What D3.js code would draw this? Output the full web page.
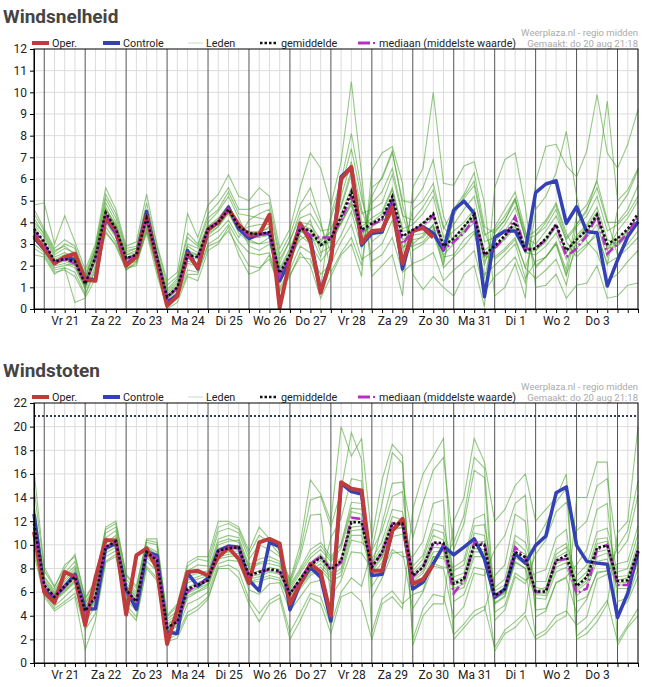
<!DOCTYPE html>
<html>
<head>
<meta charset="utf-8">
<style>
  body { margin: 0; background: #fff; }
  svg { display: block; font-family: Roboto, "Liberation Sans", sans-serif; }
</style>
<script src="https://d3js.org/d3.v7.min.js"></script>
</head>
<body>
<div id="chart"></div>
<script>
// ---- data: one value per 6 hours, from do 20 aug 18:00 ----
var dayLabels = ["Vr 21", "Za 22", "Zo 23", "Ma 24", "Di 25", "Wo 26", "Do 27",
                 "Vr 28", "Za 29", "Zo 30", "Ma 31", "Di 1", "Wo 2", "Do 3"];

// Windsnelheid (Bft)
var snelOper = [3.4, 2.8,2.1,2.4,2.55, 1.35,1.3,4.25,3.6, 2.0,2.4,4.3,2.2, 0.15,0.6,2.55,1.9,
  3.65,4.0,4.6,3.9, 3.4,3.45,4.35,0.05, 2.25,3.95,3.1,0.75, 2.25,6.0,6.55,3.05, 3.6,3.65,4.7,2.1, 3.6,3.75,3.3];
var snelControle = [3.3, 2.75,2.15,2.35,2.3, 1.4,1.35,4.2,3.5, 2.05,2.45,4.5,2.3, 0.3,0.65,2.7,1.85,
  3.65,4.0,4.7,3.7, 3.25,3.45,3.5,1.3, 2.3,3.9,3.25,0.8, 2.3,6.1,6.55,2.95, 3.5,3.55,5.0,1.85,
  3.6,3.8,3.5,2.72, 4.57,4.98,4.41,0.57, 3.3,3.6,3.6,2.72, 5.37,5.77,5.92,3.95, 4.72,3.57,3.52,1.06, 2.26,3.34,4.03];
var snelGemiddelde = [3.7, 3.1,2.2,2.3,2.2, 1.15,2.4,4.45,3.7, 2.35,2.5,4.2,2.4, 0.55,1.0,2.5,2.4,
  3.7,4.0,4.6,3.8, 3.5,3.45,3.55,1.65, 2.5,3.7,3.65,2.95, 3.25,4.25,5.4,3.65, 3.95,4.2,5.2,3.35,
  3.65,3.95,4.4,2.9, 3.25,3.8,4.35,2.5, 2.9,3.4,4.0,2.7, 2.8,3.25,3.9,2.7, 3.2,3.65,4.35,3.0, 3.25,3.7,4.4];
var snelMediaan = [3.6, 3.0,2.2,2.3,2.1, 1.2,2.3,4.4,3.6, 2.3,2.5,4.2,2.3, 0.5,1.0,2.4,2.4,
  3.7,4.0,4.6,3.8, 3.4,3.4,3.5,1.5, 2.5,3.8,3.4,3.3, 3.3,4.1,5.2,3.6, 3.9,4.1,5.1,3.0,
  3.6,3.9,4.3,2.75, 3.1,3.5,4.2,2.5, 2.8,3.3,4.25,2.75, 2.8,3.2,3.9,2.4, 2.8,3.4,4.3,2.55, 3.0,3.5,4.25];
var snelLeden = [
  [4.2, 3.4,2.5,2.8,2.6, 1.4,2.8,4.9,4.0, 2.6,2.8,4.6,2.7, 0.8,1.3,2.9,2.6, 4.0,4.5,5.2,4.2, 3.2,3.0,3.1,1.2, 2.1,3.4,3.0,2.2, 2.8,5.2,6.8,4.6, 3.1,3.5,4.6,2.5, 4.6,5.0,5.8,3.8, 3.1,3.5,4.0,2.0, 3.8,4.6,5.4,3.6, 2.0,2.4,3.1,1.8, 4.3,4.8,5.9,4.1, 2.5,3.0,3.6],
  [3.2, 2.8,2.0,2.1,1.9, 0.9,2.0,4.0,3.3, 2.1,2.2,3.8,2.1, 0.3,0.8,2.1,2.0, 3.3,3.6,4.1,3.3, 4.1,4.4,4.6,2.3, 3.1,4.5,4.9,3.9, 2.6,3.4,4.5,2.8, 4.9,5.4,6.5,4.4, 2.7,3.0,3.5,2.0, 4.4,5.1,5.7,3.4, 3.7,4.3,5.1,3.5, 1.9,2.4,3.0,1.5, 3.9,4.6,5.6,4.0, 4.0,4.6,5.7],
  [3.9, 3.3,2.4,2.6,2.4, 1.3,2.5,4.6,3.9, 2.5,2.6,4.4,2.5, 0.6,1.1,2.7,2.5, 3.8,4.2,4.8,3.9, 2.9,2.7,3.0,1.4, 2.4,3.2,3.5,2.4, 4.2,5.6,7.4,5.1, 3.4,3.6,4.5,2.9, 2.9,3.1,3.7,2.2, 4.3,5.2,5.9,3.6, 2.3,2.7,3.2,1.9, 3.4,3.8,4.6,3.1, 2.4,2.9,3.6,2.0, 4.6,5.3,6.4],
  [3.5, 2.9,2.1,2.2,2.0, 1.0,2.2,4.2,3.5, 2.2,2.4,4.0,2.3, 0.5,0.9,2.4,2.3, 3.5,3.8,4.4,3.6, 3.8,3.9,3.9,1.9, 2.8,4.0,3.9,3.2, 3.5,3.9,4.9,3.1, 5.2,6.1,7.3,4.8, 3.0,3.4,3.9,2.4, 2.5,3.2,3.6,1.4, 3.6,4.1,5.0,3.3, 3.6,4.1,4.9,3.5, 2.6,3.0,3.4,2.1, 2.4,2.8,3.3],
  [4.6, 3.7,2.8,3.2,2.9, 1.6,2.9,5.3,4.4, 2.8,2.9,4.9,2.9, 1.1,1.5,3.5,3.0, 4.4,4.9,5.6,4.6, 4.6,4.8,4.9,2.5, 3.4,4.8,5.6,4.1, 1.7,2.6,3.3,2.0, 5.6,6.0,7.2,5.0, 4.9,5.6,6.9,4.3, 3.1,3.6,4.2,2.4, 2.4,2.8,3.3,1.9, 1.4,1.8,2.3,1.1, 3.3,3.8,4.5,2.7, 3.6,4.2,5.0],
  [3.0, 2.6,1.8,1.9,1.7, 0.7,1.9,3.8,3.1, 1.9,2.0,3.6,2.0, 0.2,0.6,1.8,1.7, 3.0,3.3,3.9,3.1, 2.6,2.5,2.6,1.0, 1.8,2.9,2.6,1.6, 2.1,3.1,3.9,2.3, 2.6,3.0,4.1,2.1, 3.2,3.3,3.9,1.9, 2.4,2.9,3.5,1.6, 2.0,2.5,3.0,1.4, 2.2,2.4,3.0,1.6, 2.8,3.3,3.9,2.4, 3.3,3.6,4.1],
  [4.0, 3.5,2.6,3.0,2.8, 1.5,2.7,4.7,3.8, 2.4,2.5,4.1,2.3, 0.7,1.2,3.0,2.8, 3.8,4.1,4.6,3.7, 3.6,3.5,3.8,1.7, 2.6,3.6,3.3,3.0, 3.3,4.4,5.6,3.8, 4.2,4.5,5.6,3.7, 3.9,4.4,5.2,3.3, 3.9,4.6,5.2,3.1, 3.3,3.9,4.7,3.3, 3.0,3.6,4.3,3.2, 3.8,4.3,5.2,3.6, 3.9,4.4,5.2],
  [3.4, 2.7,1.9,2.0,2.1, 1.0,2.3,4.3,3.6, 2.3,2.5,4.3,2.5, 0.4,0.9,2.2,2.1, 3.4,3.8,4.5,3.5, 3.1,3.0,3.3,1.5, 2.2,3.5,4.1,2.6, 2.9,4.0,4.8,3.3, 3.6,3.7,4.4,2.8, 3.4,3.5,3.8,2.5, 3.0,3.7,4.6,2.2, 2.9,3.2,3.8,2.6, 2.5,2.9,3.5,2.3, 3.0,3.5,4.4,2.8, 2.9,3.4,4.1],
  [3.8, 3.0,2.3,2.5,2.3, 1.1,2.6,4.6,3.8, 2.5,2.7,4.4,2.6, 0.6,1.0,2.6,2.5, 3.7,3.9,4.5,3.8, 3.5,3.6,3.7,1.8, 2.7,3.9,3.7,3.1, 3.6,4.7,6.2,4.0, 4.0,4.4,5.5,3.6, 3.6,4.0,4.4,3.1, 3.6,4.0,4.6,2.7, 3.1,3.6,4.3,2.9, 2.7,3.1,3.8,2.6, 3.4,3.9,4.7,3.2, 3.0,3.5,4.0],
  [3.6, 3.1,2.2,2.3,2.2, 1.2,2.4,4.4,3.7, 2.3,2.5,4.1,2.4, 0.5,1.0,2.5,2.4, 3.6,4.0,4.6,3.8, 3.3,3.3,3.4,1.6, 2.4,3.6,3.6,2.9, 3.1,4.0,5.0,3.5, 3.8,4.1,5.1,3.2, 3.5,3.8,4.2,2.8, 3.3,3.8,4.3,2.4, 2.8,3.3,3.9,2.6, 2.7,3.2,3.9,2.6, 3.2,3.6,4.2,2.9, 3.1,3.6,4.3],
  [4.4, 3.6,2.7,2.9,2.5, 1.4,2.7,5.1,4.2, 2.7,2.8,4.5,2.6, 0.9,1.4,3.3,2.9, 4.2,4.6,5.4,4.4, 4.3,4.2,4.1,2.1, 3.2,4.2,4.4,3.6, 3.7,4.8,6.4,4.4, 4.6,4.9,6.2,4.3, 4.1,4.7,5.5,3.7, 4.6,5.3,6.3,3.8, 3.5,4.1,5.1,3.2, 3.4,4.0,4.8,3.3, 3.9,4.5,6.0,9.6, 5.0,5.5,6.5],
  [2.8, 2.5,1.7,1.8,1.5, 0.6,1.8,3.6,2.9, 1.8,2.1,3.7,1.8, 0.1,0.5,1.6,1.6, 2.9,3.1,3.6,2.8, 2.0,1.9,2.3,0.9, 1.6,2.4,2.3,1.0, 4.4,5.9,8.1,5.5, 2.2,2.5,3.3,1.7, 2.1,2.3,2.6,1.3, 1.8,2.2,2.7,0.8, 1.5,1.9,2.4,1.2, 4.6,5.2,6.3,8.2, 5.2,3.1,2.6,1.3, 1.6,2.2,2.7],
  [4.8, 4.9,3.0,4.3,3.1, 1.8,3.0,5.6,4.6, 2.9,3.1,5.3,3.0, 1.3,1.7,4.4,3.3, 4.8,5.3,6.2,5.2, 5.0,5.6,5.2,2.8, 3.7,5.6,7.2,6.5, 4.8,6.8,10.5,6.2, 1.5,2.0,2.5,0.6, 5.6,6.5,10.0,5.8, 5.7,6.6,6.8,4.9, 0.6,1.0,2.1,0.5, 5.9,7.5,7.6,6.6, 6.1,7.3,9.9,7.2, 6.5,7.6,9.2],
  [2.5, 2.4,1.6,1.9,0.3, 0.5,1.4,3.5,3.0, 1.8,2.2,3.5,1.6, 0.0,0.3,1.5,1.3, 2.7,3.0,3.8,2.5, 1.6,1.8,2.5,0.8, 1.5,2.6,2.0,0.5, 1.5,2.5,3.0,1.5, 6.4,7.2,7.5,5.8, 1.6,0.9,1.5,1.0, 0.6,1.6,2.0,0.1, 5.6,6.9,7.2,4.7, 1.0,1.1,1.6,0.5, 1.1,1.2,2.0,0.5, 0.6,1.1,1.2]
];

// Windstoten (m/s)
var stotenOper = [11.1, 6.0,5.1,7.7,7.3, 3.2,7.2,10.4,10.35, 4.1,9.1,9.7,8.0, 1.6,4.5,7.7,7.8,
  7.4,8.95,9.75,8.8, 6.75,10.2,10.5,10.1, 5.0,6.7,8.4,7.7, 4.0,15.3,14.75,14.6, 7.8,7.8,11.2,12.2, 6.7,7.1,8.3];
var stotenControle = [12.6, 6.1,5.55,6.5,7.5, 4.55,4.6,9.75,10.1, 6.2,4.55,9.4,9.1, 2.6,2.5,7.6,6.5,
  7.2,9.5,9.9,9.8, 7.0,6.1,10.2,9.85, 4.5,6.7,8.1,7.25, 3.55,15.2,14.5,14.3, 7.4,7.5,11.2,12.1,
  6.25,6.85,8.4,9.9, 9.15,9.8,10.5,8.8, 5.55,6.25,9.25,8.45, 9.95,10.75,14.4,14.9, 9.95,8.6,8.45,8.35, 3.85,5.9,9.45];
var stotenGemiddelde = [11.8, 6.6,5.6,6.5,7.3, 4.4,5.6,9.8,10.3, 6.2,5.2,9.4,8.7, 3.0,3.5,6.3,6.6,
  7.0,9.5,9.7,9.8, 7.4,7.7,7.95,7.8, 5.85,7.1,8.25,8.95, 7.9,8.65,11.9,11.9, 8.1,9.4,11.8,11.8,
  7.4,8.1,10.2,10.15, 6.7,7.1,10.0,10.0, 5.7,6.25,9.4,8.95, 6.05,6.05,8.65,9.1, 6.5,7.25,9.75,9.95, 6.95,7.0,9.5];
var stotenMediaan = [11.5, 6.5,5.6,6.5,7.3, 4.4,5.5,9.8,10.3, 6.1,5.2,9.4,8.9, 3.0,3.5,6.0,6.7,
  7.0,9.5,9.7,9.8, 7.4,7.7,7.9,7.7, 5.8,7.1,8.4,9.0, 7.9,8.5,12.3,12.2, 8.1,9.3,11.8,11.8,
  7.3,8.1,10.1,10.0, 5.9,7.0,10.2,10.1, 5.7,6.2,9.8,8.9, 6.0,6.0,8.7,8.8, 5.9,6.3,9.6,10.0, 6.6,6.6,9.4];
var stotenGrens = 20.9;
var stotenLeden = [
  [13.5, 7.2,6.0,7.4,8.2, 5.0,6.3,10.6,11.2, 6.8,5.8,9.9,9.4, 3.5,4.1,7.3,7.6, 7.8,10.5,10.8,10.6, 8.3,8.8,9.0,8.6, 6.6,8.0,9.6,10.2, 9.0,10.1,13.6,13.5, 6.5,7.8,9.6,9.0, 9.0,10.3,13.5,13.8, 2.0,3.0,4.0,4.5, 7.4,8.3,12.6,12.0, 4.5,4.6,6.8,7.3, 8.3,9.6,13.0,13.5, 5.2,5.5,8.0],
  [10.5, 6.2,5.2,6.0,6.8, 4.0,5.1,9.3,9.8, 5.8,4.8,8.9,8.2, 2.6,3.1,5.5,6.0, 6.4,8.8,9.0,9.1, 6.8,6.9,7.2,7.0, 5.2,6.3,7.4,7.9, 6.9,7.4,10.4,10.2, 9.5,11.2,14.1,14.5, 6.3,6.7,8.4,8.1, 8.1,8.7,12.2,12.6, 4.3,4.9,7.6,7.0, 7.6,7.9,10.6,11.3, 5.2,5.6,7.6,7.8, 8.4,8.6,11.6],
  [12.4, 6.9,5.8,6.9,7.8, 4.8,6.0,10.2,10.6, 6.5,5.5,9.7,9.1, 3.2,3.8,6.8,7.1, 7.4,10.0,10.3,10.4, 7.9,8.4,8.4,8.2, 6.2,7.6,8.9,9.6, 8.6,9.7,12.8,12.6, 8.5,9.8,12.4,12.1, 7.8,8.8,11.3,11.0, 7.3,7.6,11.0,10.8, 6.1,6.6,10.3,9.5, 6.4,6.2,9.2,9.8, 6.9,7.7,10.5,10.6, 7.3,7.4,10.2],
  [11.2, 6.4,5.4,6.2,7.0, 3.8,5.3,9.6,10.1, 6.0,5.0,9.2,8.5, 2.8,3.3,5.9,6.3, 6.7,9.2,9.4,9.5, 7.1,7.3,7.7,7.5, 5.5,6.7,7.8,8.4, 7.4,8.0,11.2,11.3, 7.7,8.9,11.2,11.5, 6.9,7.6,9.4,9.5, 6.3,6.7,9.4,9.4, 5.4,5.9,8.9,8.4, 5.8,5.7,8.1,8.5, 6.1,6.8,9.0,9.3, 6.6,6.6,8.9],
  [14.8, 7.8,6.4,8.3,9.0, 5.4,6.8,11.3,11.8, 7.4,6.3,10.4,10.2, 3.9,4.8,8.2,8.8, 8.6,11.5,11.8,11.3, 9.2,10.8,10.2,9.2, 6.9,9.4,13.8,14.1, 11.5,14.6,19.5,17.2, 2.6,5.4,6.1,5.0, 5.8,6.1,9.0,8.8, 10.2,12.5,17.4,16.5, 5.0,5.6,8.6,8.0, 2.3,2.8,4.0,4.4, 3.2,3.9,7.1,7.5, 9.8,11.2,15.4],
  [9.6, 5.8,4.6,5.2,5.9, 2.8,4.2,8.6,9.2, 4.9,3.9,8.2,7.2, 2.0,2.4,4.3,4.8, 5.6,8.1,8.3,7.8, 5.4,4.2,5.3,5.8, 2.6,4.2,5.9,5.6, 3.2,6.0,7.2,6.5, 9.6,13.5,17.8,16.9, 2.0,4.6,5.8,5.6, 2.4,3.3,4.4,4.8, 1.3,2.8,3.5,4.3, 10.3,11.8,13.6,14.8, 2.3,3.0,4.1,5.3, 1.8,3.2,4.6],
  [12.0, 6.7,5.7,6.6,7.5, 4.5,5.8,9.9,10.5, 6.3,5.3,9.5,8.8, 3.0,3.6,6.4,6.8, 7.1,9.7,9.9,9.9, 7.5,7.8,8.1,7.9, 6.0,7.2,8.5,9.2, 8.2,8.9,12.0,12.2, 8.3,9.5,11.9,11.6, 7.6,8.4,10.8,10.4, 6.9,7.3,10.2,10.3, 5.8,6.4,9.7,9.2, 6.1,6.4,8.9,9.4, 6.6,7.4,10.1,10.3, 7.0,7.2,9.8],
  [11.4, 6.5,5.5,6.3,7.2, 4.2,5.4,9.7,10.2, 6.1,5.0,9.3,8.6, 2.9,3.4,6.1,6.4, 6.9,9.3,9.6,9.6, 7.3,7.5,7.8,7.6, 5.7,6.9,8.0,8.7, 7.6,8.4,11.5,11.6, 7.9,9.0,11.5,11.4, 7.1,7.8,9.8,9.7, 6.6,6.9,9.7,9.6, 5.5,6.0,9.1,8.7, 5.9,5.9,8.4,8.8, 6.3,7.0,9.4,9.6, 6.8,6.8,9.2],
  [16.3, 8.1,6.5,8.0,9.2, 5.5,7.0,11.5,12.0, 7.5,6.5,10.5,10.5, 4.0,5.0,8.5,9.0, 9.0,12.0,12.0,11.5, 9.5,11.5,10.5,9.5, 7.0,10.0,15.5,14.3, 12.0,20.0,17.5,19.0, 10.5,15.5,18.5,17.5, 1.5,4.0,5.0,5.0, 12.0,14.0,19.0,17.0, 12.0,13.0,15.0,16.0, 12.0,13.0,14.0,16.0, 2.0,2.5,3.5,5.0, 11.0,12.0,20.0],
  [10.0, 6.0,4.8,5.6,6.4, 3.5,4.8,9.0,9.5, 5.4,4.4,8.6,7.8, 2.4,2.8,5.0,5.4, 6.0,8.4,8.7,8.6, 6.2,5.8,6.7,6.8, 4.4,5.6,6.8,7.0, 10.6,12.2,15.6,15.4, 5.5,7.2,9.3,9.4, 4.6,6.0,8.2,8.0, 3.8,4.8,7.6,7.4, 9.6,10.8,13.5,14.2, 3.9,4.4,6.8,7.2, 4.2,5.4,7.7,7.8, 4.4,5.2,7.3],
  [12.8, 7.0,5.9,7.1,8.0, 4.7,6.2,10.1,10.8, 6.6,5.6,9.8,9.2, 3.3,3.9,7.0,7.3, 7.6,10.2,10.5,10.2, 8.1,8.5,8.7,8.4, 6.4,7.8,9.2,9.9, 8.8,10.0,13.1,13.0, 8.8,10.3,13.0,12.8, 8.2,9.1,11.8,11.6, 7.8,8.3,11.6,11.7, 6.4,7.1,10.8,10.2, 6.9,6.9,9.6,10.1, 7.4,8.3,11.1,11.4, 7.7,8.0,10.9],
  [9.2, 5.6,4.4,5.0,5.6, 1.1,3.6,8.5,9.0, 4.6,3.6,8.0,7.0, 1.8,2.1,4.0,4.5, 5.4,8.0,8.0,7.2, 5.0,3.5,5.0,5.5, 2.0,3.6,5.5,5.0, 2.5,5.6,6.0,5.2, 2.0,5.0,5.6,4.6, 13.0,16.0,17.5,19.0, 5.2,5.8,8.1,7.9, 1.0,2.5,3.0,4.0, 2.0,2.5,3.5,4.0, 14.0,14.0,17.0,17.0, 1.5,3.0,4.0],
  [12.9, 7.3,6.2,7.6,8.6, 5.1,6.6,11.0,11.5, 7.1,6.0,10.2,10.0, 3.7,4.4,7.8,8.3, 8.2,11.1,11.4,11.0, 8.8,10.0,9.6,9.0, 6.7,9.0,12.5,12.6, 5.6,7.0,9.4,9.3, 8.0,11.8,15.2,15.3, 10.6,13.6,16.3,17.4, 9.6,11.8,16.3,15.7, 3.6,4.5,7.3,6.7, 9.2,10.4,12.8,13.6, 11.2,12.0,15.0,15.6, 9.2,10.4,14.2],
  [11.0, 6.3,5.3,6.1,6.9, 4.1,5.4,9.5,10.0, 5.9,5.0,9.1,8.4, 2.7,3.2,5.7,6.1, 6.6,9.0,9.2,9.3, 6.9,7.1,7.4,7.2, 5.3,6.5,7.6,8.1, 7.2,7.7,10.8,10.8, 7.4,8.5,10.7,10.9, 6.6,7.2,9.0,9.0, 6.0,6.4,9.0,9.0, 5.1,5.7,8.5,8.0, 5.5,5.4,7.7,8.1, 5.7,6.4,8.6,8.8, 6.3,6.3,8.5]
];

// ---- drawing ----
var W = 647, H = 687;
var RED = "#c03b3b", BLUE = "#3441b4", PURPLE = "#b52fc4", GREEN = "#3f9c22";

var svg = d3.select("#chart").append("svg")
    .attr("width", W).attr("height", H);

var x = d3.scaleLinear().domain([0, 59]).range([34, 638]);

function panel(top, title, yMax, yStep, d) {
  var g = svg.append("g").attr("transform", "translate(0," + top + ")");
  var y = d3.scaleLinear().domain([0, yMax]).range([309, 49]);

  g.append("text").attr("x", 3).attr("y", 23)
    .style("font-size", "19px").style("font-weight", "bold").style("fill", "#444")
    .text(title);

  g.append("text").attr("x", 638).attr("y", 36).attr("text-anchor", "end")
    .style("font-size", "9.5px").style("fill", "#aaa").text("Weerplaza.nl - regio midden");
  g.append("text").attr("x", 638).attr("y", 47).attr("text-anchor", "end")
    .style("font-size", "9.5px").style("fill", "#aaa").text("Gemaakt: do 20 aug 21:18");

  // legend
  var lg = g.append("g").attr("transform", "translate(0,43)").style("font-size", "10.8px").style("fill", "#222");
  lg.append("line").attr("x1", 32).attr("x2", 49).attr("stroke", RED).attr("stroke-width", 4);
  lg.append("text").attr("x", 52).attr("y", 4).text("Oper.");
  lg.append("line").attr("x1", 103).attr("x2", 120).attr("stroke", BLUE).attr("stroke-width", 4);
  lg.append("text").attr("x", 123).attr("y", 4).text("Controle");
  lg.append("line").attr("x1", 188).attr("x2", 203).attr("stroke", "#c5dfbd").attr("stroke-width", 1);
  lg.append("text").attr("x", 206).attr("y", 4).text("Leden");
  lg.append("line").attr("x1", 260).attr("x2", 277).attr("stroke", "#111").attr("stroke-width", 2.5)
    .attr("stroke-dasharray", "2.5,2");
  lg.append("text").attr("x", 281).attr("y", 4).text("gemiddelde");
  lg.append("line").attr("x1", 358).attr("x2", 370).attr("stroke", PURPLE).attr("stroke-width", 3);
  lg.append("line").attr("x1", 373).attr("x2", 375).attr("stroke", PURPLE).attr("stroke-width", 2);
  lg.append("text").attr("x", 379).attr("y", 4).text("mediaan (middelste waarde)");

  // grid
  var idx = d3.range(0, 60);
  g.append("g").selectAll("line").data(d3.range(yStep, yMax, yStep)).join("line")
    .attr("x1", 34).attr("x2", 638).attr("y1", y).attr("y2", y)
    .attr("stroke", "#dcdcdc").attr("stroke-width", 1);
  g.append("g").selectAll("line").data(idx.filter(function (i) { return i % 4 !== 1; })).join("line")
    .attr("x1", x).attr("x2", x).attr("y1", 49).attr("y2", 309)
    .attr("stroke", "#dcdcdc").attr("stroke-width", 1);
  g.append("g").selectAll("line").data(idx.filter(function (i) { return i % 4 === 1; })).join("line")
    .attr("x1", x).attr("x2", x).attr("y1", 49).attr("y2", 309)
    .attr("stroke", "#555").attr("stroke-width", 1);

  var line = d3.line().x(function (v, i) { return x(i); }).y(function (v) { return y(v); });

  // ensemble members
  g.append("g").selectAll("path").data(d.leden).join("path")
    .attr("d", line).attr("fill", "none")
    .attr("stroke", GREEN).attr("stroke-opacity", 0.55).attr("stroke-width", 1.1);

  if (d.grens) {
    g.append("line").attr("x1", 34).attr("x2", 638)
      .attr("y1", y(d.grens)).attr("y2", y(d.grens))
      .attr("stroke", "#2e3d4c").attr("stroke-width", 2).attr("stroke-dasharray", "2,2");
  }

  g.append("path").attr("d", line(d.controle)).attr("fill", "none")
    .attr("stroke", BLUE).attr("stroke-width", 3.5).attr("stroke-linejoin", "round");
  g.append("path").attr("d", line(d.oper)).attr("fill", "none")
    .attr("stroke", RED).attr("stroke-width", 4).attr("stroke-linejoin", "round");
  g.append("path").attr("d", line(d.mediaan)).attr("fill", "none")
    .attr("stroke", PURPLE).attr("stroke-width", 2.5).attr("stroke-dasharray", "9,3,2,3");
  g.append("path").attr("d", line(d.gemiddelde)).attr("fill", "none")
    .attr("stroke", "#111").attr("stroke-width", 2.5).attr("stroke-dasharray", "2.5,2");

  // frame
  g.append("rect").attr("x", 34).attr("y", 49).attr("width", 604).attr("height", 260)
    .attr("fill", "none").attr("stroke", "#000").attr("stroke-width", 1);

  // axes
  var ya = g.append("g").attr("transform", "translate(34,0)")
    .call(d3.axisLeft(y).tickValues(d3.range(0, yMax + 1, yStep)).tickSize(4).tickPadding(3));
  var xa = g.append("g").attr("transform", "translate(0,309)")
    .call(d3.axisBottom(x).tickValues(idx).tickSize(4).tickPadding(3)
      .tickFormat(function (i) { return i % 4 === 3 && dayLabels[(i - 3) / 4] ? dayLabels[(i - 3) / 4] : ""; }));
  [ya, xa].forEach(function (a) {
    a.select(".domain").attr("stroke", "#000");
    a.selectAll("text").style("font-size", "12px").style("fill", "#222")
      .style("font-family", "Roboto, 'Liberation Sans', sans-serif");
  });
}

panel(0, "Windsnelheid", 12, 1, {
  oper: snelOper, controle: snelControle, gemiddelde: snelGemiddelde,
  mediaan: snelMediaan, leden: snelLeden
});
panel(354, "Windstoten", 22, 2, {
  oper: stotenOper, controle: stotenControle, gemiddelde: stotenGemiddelde,
  mediaan: stotenMediaan, leden: stotenLeden, grens: stotenGrens
});
</script>
</body>
</html>
